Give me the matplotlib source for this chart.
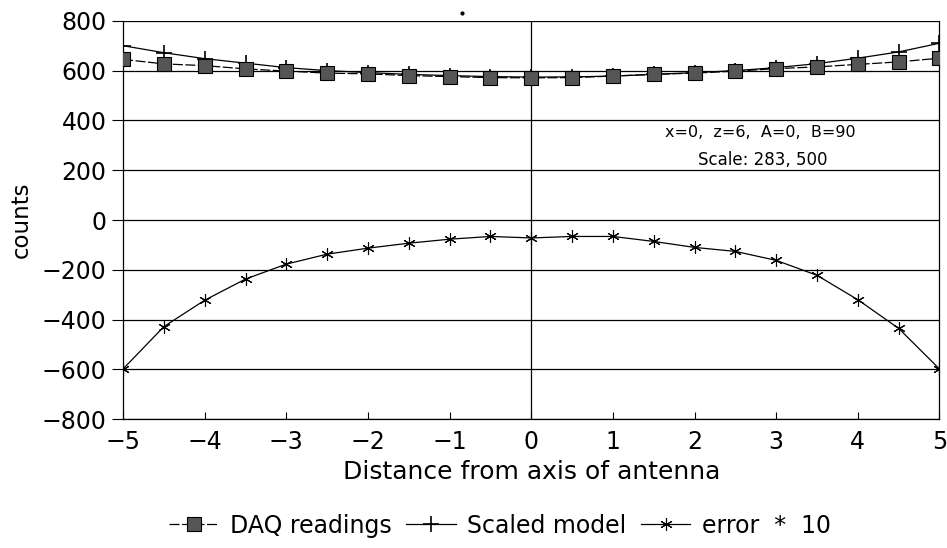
import matplotlib
matplotlib.use('Agg')
import matplotlib.pyplot as plt

# data
x = [-5, -4.5, -4, -3.5, -3, -2.5, -2, -1.5, -1, -0.5, 0,
     0.5, 1, 1.5, 2, 2.5, 3, 3.5, 4, 4.5, 5]
daq = [645, 627, 620, 607, 598, 590, 587, 580, 576, 572, 571,
       572, 578, 585, 590, 598, 608, 615, 625, 635, 650]
model = [700, 672, 648, 630, 612, 600, 592, 585, 580, 576, 574,
         575, 578, 585, 592, 600, 612, 628, 650, 675, 710]
error10 = [-598, -428, -322, -237, -177, -137, -113, -93, -77, -66, -72,
           -66, -66, -86, -110, -126, -162, -222, -320, -435, -598]

plt.rcParams['font.family'] = ['DejaVu Sans']

fig = plt.figure(figsize=(9.47, 5.48), dpi=100)
ax = fig.add_axes([0.130, 0.235, 0.862, 0.727])

ax.plot(x, daq, color='black', linewidth=0.9, dashes=(8, 2),
        marker='s', markersize=10, markerfacecolor='#555555',
        markeredgecolor='black', markeredgewidth=0.8, label='DAQ readings', zorder=4)
ax.plot(x, model, color='black', linewidth=0.9, marker='+', markersize=11,
        markeredgewidth=1.2, label='Scaled model', zorder=3)
ax.plot(x, error10, color='black', linewidth=0.9, marker=(6, 2, 0), markersize=9,
        markeredgewidth=0.8, label='error  *  10', zorder=3)

ax.set_xlim(-5, 5)
ax.set_ylim(-800, 800)
ax.set_xticks(range(-5, 6))
ax.set_yticks(range(-800, 801, 200))
ax.yaxis.grid(True, color='black', linewidth=0.9)
ax.axvline(0, color='black', linewidth=0.9)
ax.spines['top'].set_visible(False)
for s in ['left', 'right', 'bottom']:
    ax.spines[s].set_linewidth(0.9)

ax.tick_params(axis='x', direction='in', length=5, labelsize=17, pad=8)
ax.tick_params(axis='y', direction='out', length=8, labelsize=17, pad=4)
ax.set_xlabel('Distance from axis of antenna', fontsize=18, labelpad=4)
ax.set_ylabel('counts', fontsize=16.5, labelpad=6)

ax.text(2.8, 350, 'x=0,  z=6,  A=0,  B=90', fontsize=11.5, ha='center', va='center')
ax.text(2.84, 204, 'Scale: 283, 500', fontsize=12, ha='center', va='bottom')
ax.plot([-0.85], [832], marker='o', markersize=2, color='black', clip_on=False)

fig.legend(loc='lower center', bbox_to_anchor=(0.528, -0.02), ncol=3, frameon=False,
           fontsize=17, handlelength=2.1, handletextpad=0.5, columnspacing=0.6)

fig.savefig('out.png', dpi=100)
